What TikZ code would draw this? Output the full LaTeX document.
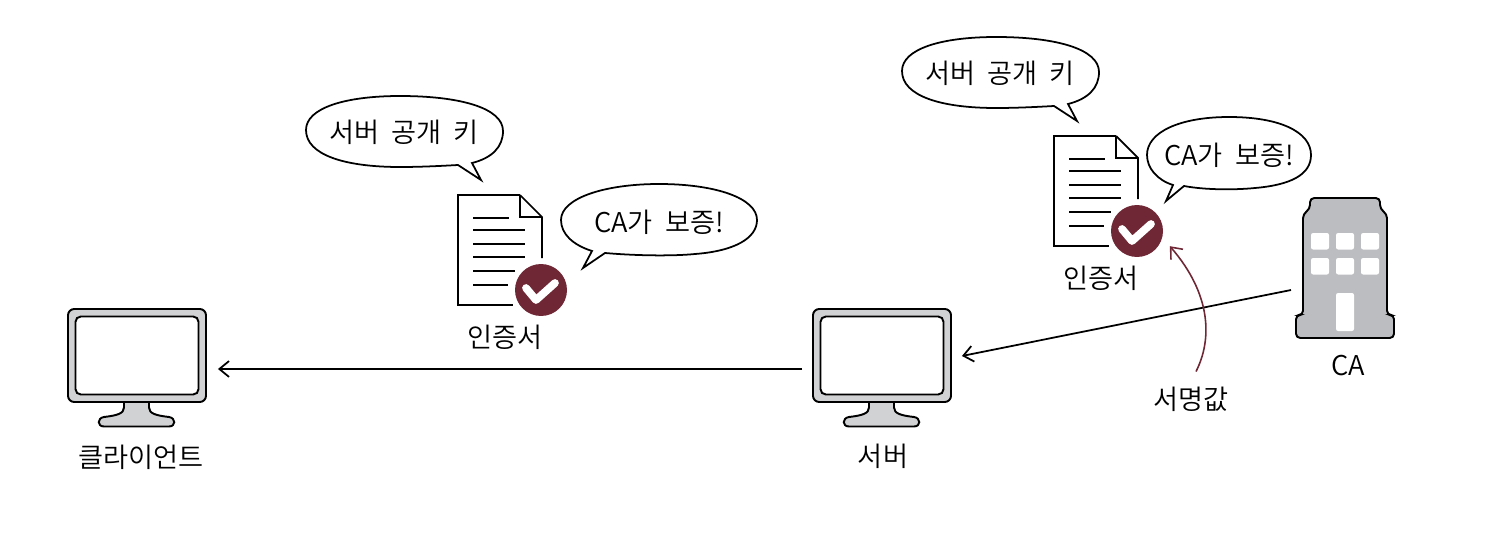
\documentclass[tikz,border=0pt]{standalone}
\usepackage{fontspec}
\setmainfont{Noto Sans CJK KR}[UprightFont=* DemiLight]
\usetikzlibrary{arrows.meta}
\definecolor{badgered}{HTML}{6F2735}
\definecolor{monitorgray}{HTML}{D1D2D3}
\definecolor{towergray}{HTML}{BCBDC0}
\tikzset{
  pics/monitor/.style={code={
    % Stand first, the frame sits on top
    \draw[line width=1.1pt,fill=monitorgray] (-13,46) -- (-13,52) .. controls (-13,58) and (-20,60) .. (-33,61.5)
      .. controls (-40,62.5) and (-40,71) .. (-33,71) -- (32,71)
      .. controls (39,71) and (39,62.5) .. (32,61.5) .. controls (19,60) and (12,58) .. (12,52) -- (12,46) -- cycle;
    \node[draw,line width=1.1pt,fill=monitorgray,rounded corners=3.5pt,minimum width=2.76cm,minimum height=1.86cm] (frame) at (0,0) {};
    \node[draw,line width=1.1pt,fill=white,rounded corners=3pt,minimum width=2.46cm,minimum height=1.56cm] (screen) at (0,0) {};
  }},
  pics/certdoc/.style={code={
    \draw[line width=1pt] (520,195) -- (458,195) -- (458,305) -- (513,305);
    \draw[line width=1pt] (520,195) -- (542,217) -- (542,258);
    \draw[line width=1pt] (520,195) -- (520,217) -- (542,217);
    % Text lines
    \foreach \ly/\lx in {218/509,230/525,244/525,257/525,271/515,285/508}
      \draw[line width=1pt] (473,\ly) -- (\lx,\ly);
    \node[circle,fill=badgered,inner sep=0pt,minimum size=1.04cm] (badge) at (541,290) {};
    \draw[white,line width=4.4pt,line cap=round,line join=round] (526,288) -- (536,300) -- (555,283);
    \node (label) at (505,337) {인증서};
  }},
  pics/keybubble/.style={code={
    \draw[bubble] (472,163) .. controls (492,158) and (503,147) .. (503,131) .. controls (503,108) and (460,96) .. (400,96)
      .. controls (345,96) and (306,108) .. (306,130) .. controls (306,155) and (345,167) .. (400,167)
      .. controls (420,167) and (440,166) .. (458,165) -- (481,180) -- cycle;
    \node (text) at (404,132) {서버\ \ 공개\ \ 키};
  }}
}

\begin{document}
\begin{tikzpicture}[x=0.02cm,y=-0.02cm,>={Straight Barb[length=5.5pt,width=9pt]},
    font=\fontsize{15.5}{18}\selectfont,
    bubble/.style={line width=1pt,line join=miter},
    link/.style={->,line width=1pt}]
  \useasboundingbox (0,0) rectangle (1494,544);

  % Monitors
  \pic (client) at (137,355.5) {monitor};
  \pic (server) at (882,355.5) {monitor};
  \node (clientlabel) at (141,457) {클라이언트};
  \node (serverlabel) at (883,456) {서버};

  % Certificates
  \pic (certA) at (0,0) {certdoc};
  \pic (certB) at (596,-59) {certdoc};
  \pic (keyA) at (0,0) {keybubble};
  \pic (keyB) at (596,-59) {keybubble};
  \draw[bubble] (605,253) .. controls (640,256) and (675,256) .. (695,254) .. controls (735,251) and (757,238) .. (757,220)
    .. controls (757,198) and (715,184) .. (659,184) .. controls (605,184) and (561,198) .. (561,220)
    .. controls (561,234) and (573,245) .. (592,251) -- (583,268) -- cycle;
  \node (caresA) at (659,222) {CA가\ \ 보증!};
  \draw[bubble] (1184,186) .. controls (1205,190) and (1235,190) .. (1255,188) .. controls (1290,185) and (1311,175) .. (1311,155)
    .. controls (1311,132) and (1280,117) .. (1229,117) .. controls (1180,117) and (1147,132) .. (1147,155)
    .. controls (1147,168) and (1157,180) .. (1173,185) -- (1166,201) -- cycle;
  \node (caresB) at (1229,155) {CA가\ \ 보증!};

  % CA building
  \draw[line width=1.1pt,fill=towergray,rounded corners=2.4pt] (1310,209) -- (1310,198) -- (1380,198) -- (1380,209) -- (1387,214) -- (1387,315) -- (1394,315) -- (1394,338) -- (1296,338) -- (1296,315) -- (1303,315) -- (1303,214) -- cycle;
  \foreach \wx in {1311,1336,1361}
    \foreach \wy in {233,258}
      \fill[white,rounded corners=1.2pt] (\wx,\wy) rectangle ++(18,16.5);
  \fill[white,rounded corners=1.2pt] (1336,293) rectangle (1354,331);
  \node (ca) at (1348,366) {CA};
  \coordinate (caout) at (1291,290);

  % Connectors
  \draw[link] ([shift={(-10,13.5)}]serverframe.west) -- ([shift={(11,13.5)}]clientframe.east);
  \draw[link] (caout) -- ([shift={(10,0.5)}]serverframe.east);

  % Signature
  \node (sig) at (1191,399) {서명값};
  \draw[link,badgered,line width=0.9pt] ([shift={(5,-9)}]sig.north) .. controls (1212,340) and (1212,295) .. ([shift={(10,2)}]certBbadge.-30);
\end{tikzpicture}
\end{document}
